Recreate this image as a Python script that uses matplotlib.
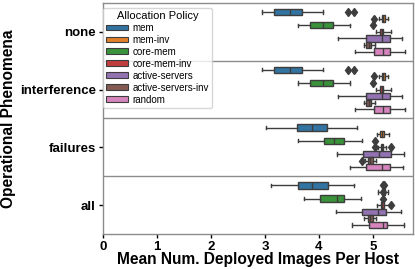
import numpy as np
import matplotlib.pyplot as plt
from matplotlib.patches import Patch

plt.rcParams['font.family'] = ['Liberation Sans', 'DejaVu Sans']

phenomena = ["none", "interference", "failures", "all"]
policies = ["mem", "mem-inv", "core-mem", "core-mem-inv",
            "active-servers", "active-servers-inv", "random"]
colors = ["#3274a1", "#e1812c", "#3a923a", "#c03d3e",
          "#9372b2", "#845b53", "#d684bd"]

# stats per policy: rows = phenomena, cols = whislo, q1, med, q3, whishi
mem = [[2.94, 3.17, 3.46, 3.69, 4.07],
       [2.94, 3.17, 3.46, 3.69, 4.07],
       [3.02, 3.60, 3.88, 4.15, 4.70],
       [3.12, 3.62, 3.88, 4.16, 4.64]]
mem_inv = [[5.11, 5.16, 5.19, 5.22, 5.28],
           [5.11, 5.16, 5.19, 5.22, 5.28],
           [5.07, 5.13, 5.17, 5.21, 5.30],
           [5.09, 5.16, 5.19, 5.22, 5.28]]
core_mem = [[3.62, 3.83, 4.07, 4.26, 4.57],
            [3.62, 3.83, 4.07, 4.26, 4.57],
            [3.61, 4.09, 4.27, 4.46, 4.80],
            [3.73, 4.02, 4.34, 4.47, 4.78]]
core_mem_inv = [[5.06, 5.13, 5.16, 5.19, 5.33],
                [5.06, 5.13, 5.16, 5.19, 5.33],
                [5.10, 5.15, 5.17, 5.19, 5.24],
                [5.08, 5.15, 5.17, 5.20, 5.30]]
active_servers = [[4.36, 4.88, 5.16, 5.32, 5.54],
                  [4.36, 4.88, 5.16, 5.32, 5.54],
                  [4.34, 4.81, 5.12, 5.33, 5.58],
                  [4.31, 4.80, 5.09, 5.25, 5.52]]
active_servers_inv = [[4.84, 4.88, 4.92, 4.96, 5.03],
                      [4.84, 4.88, 4.92, 4.96, 5.03],
                      [4.85, 4.91, 4.95, 5.00, 5.06],
                      [4.84, 4.91, 4.95, 5.00, 5.06]]
random_pol = [[4.67, 5.02, 5.18, 5.32, 5.59],
              [4.67, 5.02, 5.18, 5.32, 5.59],
              [4.57, 4.88, 5.16, 5.31, 5.56],
              [4.62, 4.93, 5.18, 5.26, 5.57]]

# outliers per policy per phenomenon
mem_fl = [[4.54, 4.64], [4.54, 4.64], [], [5.19, 5.20]]
mem_inv_fl = [[5.02], [5.02], [], [5.19]]
core_mem_fl = [[5.01], [5.01], [5.04], [5.19]]
core_mem_inv_fl = [[], [], [5.04, 5.34], [5.34]]
active_servers_fl = [[], [], [], []]
active_servers_inv_fl = [[], [], [4.79], []]
random_fl = [[], [], [], []]

stats_all = [mem, mem_inv, core_mem, core_mem_inv,
             active_servers, active_servers_inv, random_pol]
fliers_all = [mem_fl, mem_inv_fl, core_mem_fl, core_mem_inv_fl,
              active_servers_fl, active_servers_inv_fl, random_fl]

edge = "#3d3d3d"

fig = plt.figure(figsize=(4.15, 2.69), dpi=100)
ax = fig.add_axes([0.248, 0.130, 0.747, 0.859])

n = len(policies)
slot = 0.8 / n
offsets = (np.arange(n) - (n - 1) / 2) * slot

for k, (pol, col) in enumerate(zip(policies, colors)):
    bxs = []
    for i in range(len(phenomena)):
        lo, q1, med, q3, hi = stats_all[k][i]
        bxs.append(dict(whislo=lo, q1=q1, med=med, q3=q3, whishi=hi,
                        fliers=fliers_all[k][i]))
    pos = np.arange(len(phenomena)) + offsets[k]
    ax.bxp(bxs, positions=pos, widths=slot * 0.98, orientation='horizontal',
           patch_artist=True, manage_ticks=False,
           boxprops=dict(facecolor=col, edgecolor=edge, linewidth=1.0),
           medianprops=dict(color=edge, linewidth=1.0),
           whiskerprops=dict(color=edge, linewidth=1.0),
           capprops=dict(color=edge, linewidth=1.0),
           flierprops=dict(marker='d', markersize=4.5, markerfacecolor=edge,
                           markeredgecolor=edge))

for s in [0.5, 1.5, 2.5]:
    ax.axhline(s, color="#8c8c8c", linewidth=1.0)

ax.set_ylim(3.5, -0.5)
ax.set_xlim(0, 5.74)
ax.set_yticks(range(len(phenomena)))
ax.set_yticklabels(phenomena, fontsize=9.5, fontweight='bold')
ax.set_xticks(range(6))
ax.set_xticklabels([str(v) for v in range(6)], fontsize=9.5,
                   fontweight='bold')
ax.tick_params(length=3, width=1, pad=2)
for sp in ax.spines.values():
    sp.set_color("#8c8c8c")
    sp.set_linewidth(1.0)

ax.set_xlabel("Mean Num. Deployed Images Per Host", fontsize=11.2,
              fontweight='bold', labelpad=-1)
ax.set_ylabel("Operational Phenomena", fontsize=11.2, fontweight='bold',
              labelpad=3)

handles = [Patch(facecolor=c, edgecolor=edge, linewidth=0.8) for c in colors]
leg = ax.legend(handles, policies, title="Allocation Policy",
                loc="upper left", fontsize=7.0, title_fontsize=8.0,
                frameon=True, bbox_to_anchor=(0.0, 0.98), borderaxespad=0.0,
                handlelength=2.2, handleheight=0.55, handletextpad=0.5,
                labelspacing=0.2, borderpad=0.35)
leg.get_frame().set_edgecolor("#cccccc")

fig.savefig("out.png", dpi=100)
